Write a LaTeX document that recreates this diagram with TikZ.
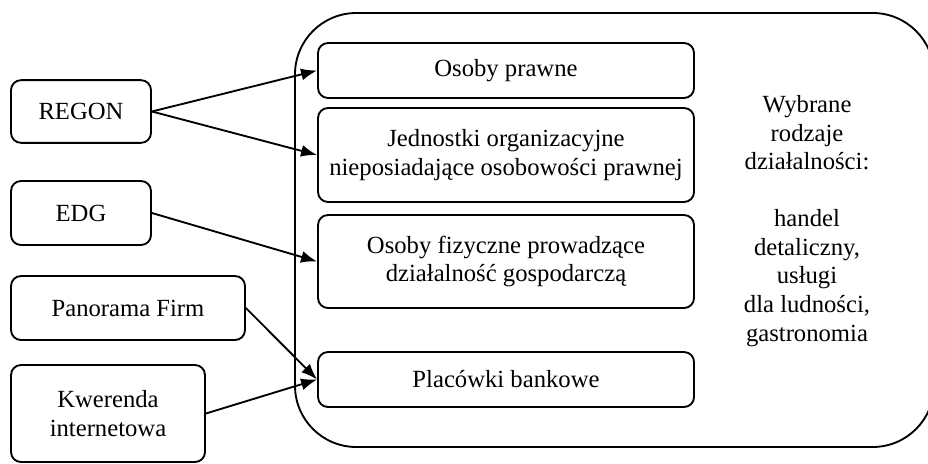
\documentclass[tikz,border=0pt]{standalone}
\usepackage{fontspec}
\setmainfont{Liberation Serif}
\usetikzlibrary{arrows.meta}

\begin{document}
\begin{tikzpicture}[x=0.75pt,y=-0.75pt,
    box/.style={draw,line width=1.4pt,rounded corners=7.5pt,align=center,inner sep=0pt,
        font=\fontsize{18.5}{21.4}\selectfont},
    link/.style={line width=1.4pt,-{Latex[length=12pt,width=9pt]}}]
    \useasboundingbox (0,0) rectangle (928,464);
    % zbior danych
    \node[draw,line width=1.4pt,rounded corners=46pt,minimum width=479.25pt,minimum height=325.5pt] (all) at (614.5,230) {};
    \node[align=center,font=\fontsize{18.5}{21.4}\selectfont] (types) at (807,221)
        {Wybrane\\rodzaje\\działalności:\\[21.4pt]handel\\detaliczny,\\usługi\\dla ludności,\\gastronomia};
    % podmioty
    \node[box,minimum width=282pt,minimum height=41.25pt] (prawne) at (506,70.5) {Osoby prawne};
    \node[box,minimum width=282pt,minimum height=70.5pt] (jednostki) at (506,155) {Jednostki organizacyjne\\nieposiadające osobowości prawnej};
    \node[box,minimum width=282pt,minimum height=69.75pt] (fizyczne) at (506,261.5) {Osoby fizyczne prowadzące\\działalność gospodarczą};
    \node[box,minimum width=282pt,minimum height=41.25pt] (banki) at (506,379.5) {Placówki bankowe};
    % zrodla
    \node[box,minimum width=105pt,minimum height=47pt] (regon) at (81,111.5) {REGON};
    \node[box,minimum width=105pt,minimum height=48pt] (edg) at (81,213) {EDG};
    \node[box,minimum width=175.5pt,minimum height=48pt] (panorama) at (128,308) {Panorama Firm};
    \node[box,minimum width=145.5pt,minimum height=72.75pt] (kwerenda) at (108,413.5) {Kwerenda\\internetowa};
    % strzalki
    \draw[link] (regon.east) -- (prawne.west);
    \draw[link] (regon.east) -- (jednostki.west);
    \draw[link] (edg.east) -- (fizyczne.west);
    \draw[link] (panorama.east) -- (banki.west);
    \draw[link] (kwerenda.east) -- (banki.west);
\end{tikzpicture}
\end{document}
